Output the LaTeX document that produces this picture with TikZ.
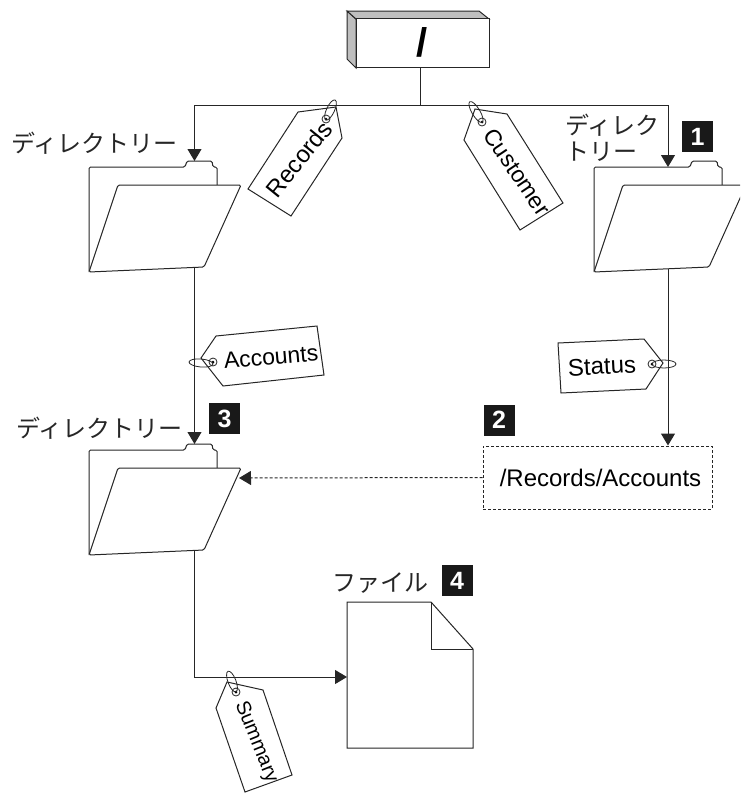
\documentclass[tikz,border=0pt]{standalone}
\usepackage{fontspec}
\setmainfont{Liberation Sans}
\newfontfamily\jpfont{Noto Sans CJK JP}
\usetikzlibrary{arrows.meta}
\begin{document}
\begin{tikzpicture}[x=1pt,y=-1pt,line width=1pt,draw=black!85]
      \tikzstyle{link}=[-{Triangle[length=12pt,width=14pt]}];
      \tikzstyle{tagtext}=[font=\fontsize{24}{24}\selectfont,inner sep=0pt];
      \tikzstyle{jptext}=[font=\jpfont\fontsize{24}{24}\selectfont,inner sep=0pt,text=black!85];
      \tikzstyle{numbox}=[fill=black!90,text=white,minimum size=31pt,inner sep=0pt,font=\bfseries\fontsize{25}{25}\selectfont];
      \tikzstyle{hole}=[circle,draw,line width=0.8pt,fill=white,inner sep=0pt,minimum size=8pt];
      \tikzstyle{loop}=[line width=0.8pt];
      \useasboundingbox (0,0) rectangle (740,793);
      \clip (0,0) rectangle (740,793);

      % root box
      \draw[fill=black!25] (347,11) -- (356,19) -- (356,68) -- (347,59) -- cycle;
      \draw[fill=black!25] (347,11) -- (479,11) -- (489,19) -- (356,19) -- cycle;
      \node[draw,fill=white,minimum width=133pt,minimum height=49pt,font=\bfseries\fontsize{40}{40}\selectfont] (root) at (422.5,42.5) {/};

      % folders
      \foreach \dx/\dy in {0/0,505/0,0/283} {
        \begin{scope}[shift={(\dx,\dy)}]
          \draw[fill=white,rounded corners=1.5pt] (89,272) -- (89,167) -- (185,167) -- (187,161) -- (212,161) -- (213,167) -- (217,167) -- (217,190);
          \draw[fill=white,rounded corners=1.5pt] (118,185) -- (241,185) -- (204,267) -- (89,272) -- cycle;
        \end{scope}
      }

      \coordinate (trunk) at (420.5,68);
      \coordinate (fork) at (420.5,105.5);
      \coordinate (left) at (194.5,105.5);
      \coordinate (right) at (668,105.5);
      \coordinate (recordsin) at (194.5,161);
      \coordinate (customerin) at (668,167);
      \coordinate (recordsout) at (194.5,267);
      \coordinate (customerout) at (668,269);
      \coordinate (accountsin) at (194.5,444);
      \coordinate (accountsout) at (194.5,550);
      \coordinate (accountsside) at (239,478);
      \coordinate (bend) at (194.5,677);

      % file
      \draw[fill=white] (347,602) -- (431,602) -- (473,649) -- (473,748) -- (347,748) -- cycle;
      \draw (431,602) -- (431,649) -- (473,649);
      \coordinate (filein) at (347,677);

      % link box
      \node[draw,dash pattern=on 3pt off 2pt,minimum width=229pt,minimum height=63pt,inner sep=0pt,font=\fontsize{24}{24}\selectfont] (linkbox) at (597.5,477.5) {\hspace*{6pt}/Records/Accounts};

      \draw (trunk) -- (fork);
      \draw[link] (fork) -- (left) -- (recordsin);
      \draw[link] (fork) -- (right) -- (customerin);
      \draw[link] (recordsout) -- (accountsin);
      \draw[link] (customerout) -- (linkbox.north -| customerout);
      \draw[link,dash pattern=on 3pt off 2pt] (linkbox.west) -- (accountsside);
      \draw[link] (accountsout) -- (bend) -- (filein);

      % tags
      \draw[fill=white] (336,107) -- (342,138) -- (291,216) -- (248,189) -- (298,112) -- cycle;
      \node[tagtext,rotate=51] (recordstext) at (299,159) {Records};
      \node[hole] (recordshole) at (326,119) {};
      \fill (recordshole) circle (1.5);
      \draw[loop,rotate around={65:(330.5,110)}] (330.5,110) ellipse (11 and 4);

      \draw[fill=white] (475,109) -- (507,114) -- (563,203) -- (520,230) -- (464,140) -- cycle;
      \node[tagtext,rotate=-56,font=\fontsize{23}{23}\selectfont] (customertext) at (517,172) {Customer};
      \node[hole] (customerhole) at (482,122) {};
      \fill (customerhole) circle (1.5);
      \draw[loop,rotate around={-59:(476,112)}] (476,112) ellipse (12 and 4);

      \draw[fill=white] (201,358) -- (216,336) -- (317,326) -- (324,375) -- (223,386) -- cycle;
      \node[tagtext,rotate=5,font=\fontsize{23}{23}\selectfont] (accountstext) at (271,357) {Accounts};
      \node[hole] (accountshole) at (213,362) {};
      \fill (accountshole) circle (1.5);
      \draw[loop,rotate around={-5:(201,363)}] (201,363) ellipse (12 and 4);

      \draw[fill=white] (663,363) -- (644,339) -- (558,343) -- (561,393) -- (646,389) -- cycle;
      \node[tagtext,rotate=3] (statustext) at (602,366) {Status};
      \node[hole] (statushole) at (652,364) {};
      \fill (statushole) circle (1.5);
      \draw[loop] (664,364) ellipse (12 and 4);

      \draw[fill=white] (227,682) -- (263,690) -- (292,775) -- (245,792) -- (216,708) -- cycle;
      \node[tagtext,rotate=-68,font=\fontsize{20}{20}\selectfont] (summarytext) at (256,742) {Summary};
      \node[hole] (summaryhole) at (236,692) {};
      \fill (summaryhole) circle (1.5);
      \draw[loop,rotate around={-69:(232,681.5)}] (232,681.5) ellipse (11 and 4);

      % labels
      \node[jptext] (dirleft) at (94.5,143) {ディレクトリー};
      \node[jptext] (dirmid) at (99.5,428) {ディレクトリー};
      \node[jptext,anchor=west] (dirright) at (565,125) {ディレク};
      \node[jptext,anchor=west] (dirright2) at (565,152) {トリー};
      \node[jptext] (filelabel) at (380,583) {ファイル};

      \node[numbox] (one) at (697.5,136.5) {1};
      \node[numbox] (two) at (499,420) {2};
      \node[numbox] (three) at (224.5,418.5) {3};
      \node[numbox] (four) at (457,580.5) {4};
    \end{tikzpicture}
\end{document}
